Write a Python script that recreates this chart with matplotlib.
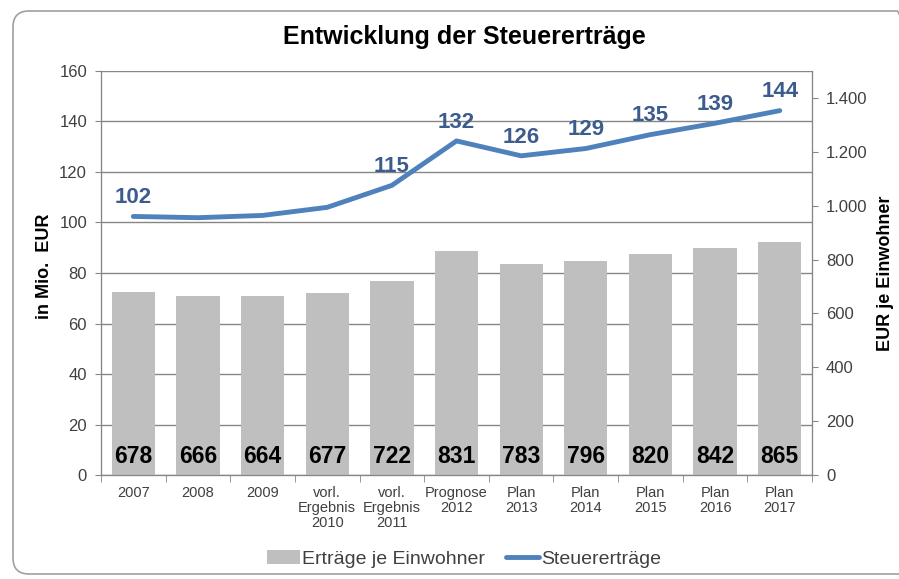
import numpy as np
import matplotlib.pyplot as plt
from matplotlib.patches import FancyBboxPatch

plt.rcParams["font.family"] = ["Liberation Sans", "DejaVu Sans"]

# Daten
kategorien = ["2007", "2008", "2009", "vorl.\nErgebnis\n2010", "vorl.\nErgebnis\n2011",
              "Prognose\n2012", "Plan\n2013", "Plan\n2014", "Plan\n2015", "Plan\n2016", "Plan\n2017"]
ertraege_je_einwohner = [678, 666, 664, 677, 722, 831, 783, 796, 820, 842, 865]
steuerertraege = [102.4, 101.9, 102.8, 106.0, 114.7, 132.3, 126.4, 129.3, 134.8, 139.3, 144.3]
steuer_labels = ["102", "", "", "", "115", "132", "126", "129", "135", "139", "144"]

bar_color = "#BFBFBF"
line_color = "#4F81BD"
label_blue = "#3B5C8C"
text_gray = "#404040"
spine_gray = "#868686"

fig = plt.figure(figsize=(8.99, 5.79), dpi=100)

# abgerundeter Rahmen
frame = FancyBboxPatch((13, 5), 900, 563, boxstyle="round,pad=0,rounding_size=16",
                       transform=None, fill=False, edgecolor="#A0A0A0", lw=1.2, zorder=5)
fig.patches.append(frame)

ax = fig.add_axes([0.1123, 0.1796, 0.791, 0.6978])
ax2 = ax.twinx()
ax3 = ax.twinx()

x = np.arange(len(kategorien))

# Linke Achse: Gitter
ax.set_ylim(0, 160)
ax.set_yticks(np.arange(0, 161, 20))
ax.yaxis.grid(True, color=spine_gray, lw=1)
ax.set_axisbelow(True)
ax.set_xlim(-0.5, len(kategorien) - 0.5)

# Rechte Achse: Balken
ax2.bar(x, ertraege_je_einwohner, width=0.67, color=bar_color, zorder=2,
        label="Erträge je Einwohner")
ax2.set_ylim(0, 1500)
ax2.set_yticks(np.arange(0, 1401, 200))
ax2.set_yticklabels(["0", "200", "400", "600", "800", "1.000", "1.200", "1.400"])
for i, v in enumerate(ertraege_je_einwohner):
    ax2.annotate(str(v), xy=(i, 0), xytext=(0, 8.6), textcoords="offset points",
                 ha="center", va="baseline", fontsize=16.5, fontweight="bold", color="black")

# Linie auf eigener Achse, damit sie über den Balken liegt
ax3.plot(x, steuerertraege, color=line_color, lw=3.5, solid_capstyle="round",
         label="Steuererträge", zorder=3)
ax3.set_ylim(0, 160)
ax3.set_yticks([])
for i, (v, lab) in enumerate(zip(steuerertraege, steuer_labels)):
    if lab:
        ax3.annotate(lab, xy=(i, v), xytext=(0, 9.5), textcoords="offset points",
                     ha="center", va="baseline", fontsize=16, fontweight="bold", color=label_blue)

for a in (ax, ax2, ax3):
    for s in a.spines.values():
        s.set_color(spine_gray)
    a.spines["top"].set_visible(False)

ax.tick_params(axis="y", length=4, color=spine_gray, labelsize=12, labelcolor=text_gray, pad=6)
ax2.tick_params(axis="y", length=4, color=spine_gray, labelsize=12, labelcolor=text_gray, pad=6)

# x-Achse: Striche zwischen den Kategorien
ax.set_xticks(x)
ax.set_xticklabels(kategorien, fontsize=10.5, color=text_gray, linespacing=1.1)
ax.set_xticks(np.arange(-0.5, len(kategorien), 1), minor=True)
ax.tick_params(axis="x", which="major", length=0, pad=8)
ax.tick_params(axis="x", which="minor", length=5, color=spine_gray)

fig.text(0.517, 0.936, "Entwicklung der Steuererträge", ha="center", va="center",
         fontsize=18, fontweight="bold")
fig.text(0.05, 0.54, "in Mio.  EUR", rotation=90, ha="center", va="center",
         fontsize=13, fontweight="bold")
fig.text(0.985, 0.528, "EUR je Einwohner", rotation=90, ha="center", va="center",
         fontsize=13, fontweight="bold")

h2, l2 = ax2.get_legend_handles_labels()
h3, l3 = ax3.get_legend_handles_labels()
fig.legend(h2 + h3, l2 + l3, loc="center", bbox_to_anchor=(0.516, 0.0345), ncol=2,
           frameon=False, fontsize=14, handlelength=1.7, handleheight=0.7,
           handletextpad=0.1, columnspacing=1.1, labelcolor=text_gray)

fig.savefig("out.png", dpi=100)
